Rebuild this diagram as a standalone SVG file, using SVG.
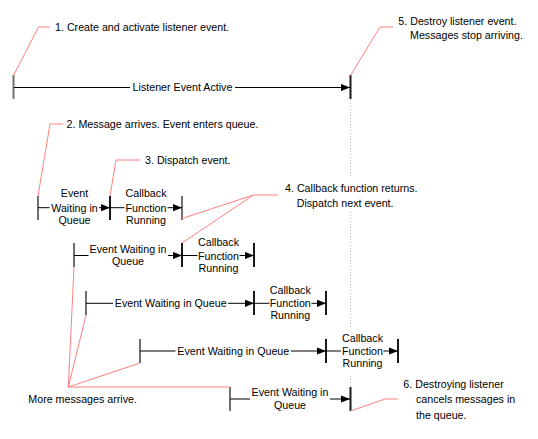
<svg xmlns="http://www.w3.org/2000/svg" width="538" height="439" viewBox="0 0 538 439">
  <defs>
    <marker id="arrow" viewBox="0 0 10 8" refX="10" refY="4" markerWidth="9" markerHeight="7.5" markerUnits="userSpaceOnUse" orient="auto">
      <path d="M0,0 L10,4 L0,8 Z" fill="#000"/>
    </marker>
    <style>
      text { font-family: "Liberation Sans", Arial, Helvetica, sans-serif; font-size: 10.7px; fill: #000; }
      .mid { text-anchor: middle; }
      .line { stroke: #000; stroke-width: 1; fill: none; }
      .arr { stroke: #000; stroke-width: 1; fill: none; marker-end: url(#arrow); }
      .start { stroke: #707070; stroke-width: 2; }
      .stop { stroke: #1a1a1a; stroke-width: 2; }
      .call { stroke: #ff8080; stroke-width: 1; fill: none; }
      .guide { stroke: #c0c0c0; stroke-width: 1; stroke-dasharray: 1 2; }
    </style>
  </defs>
  <rect width="538" height="439" fill="#fff"/>

  <!-- end-of-life guide under the listener stop bar -->
  <g id="guide">
    <line class="guide" x1="350.5" y1="100" x2="350.5" y2="178"/>
    <line class="guide" x1="350.5" y1="212" x2="350.5" y2="328"/>
    <line class="guide" x1="350.5" y1="376" x2="350.5" y2="387"/>
  </g>

  <!-- listener lifetime -->
  <g id="listener">
    <line class="start" x1="13.5" y1="75" x2="13.5" y2="99"/>
    <line class="stop" x1="350.5" y1="75" x2="350.5" y2="99"/>
    <text class="mid" x="182.5" y="90.8">Listener Event Active</text>
  </g>

  <!-- message 1 -->
  <g id="wait1">
    <line class="start" x1="38" y1="196" x2="38" y2="220"/>
    <text class="mid" x="74.5" y="197.2">Event</text>
    <text class="mid" x="74.5" y="211.5">Waiting in</text>
    <text class="mid" x="74.5" y="224">Queue</text>
  </g>
  <g id="run1">
    <line class="stop" x1="110" y1="196" x2="110" y2="220"/>
    <line class="start" x1="182" y1="196" x2="182" y2="220"/>
    <text class="mid" x="146" y="197.2">Callback</text>
    <text class="mid" x="146" y="211.5">Function</text>
    <text class="mid" x="146" y="224">Running</text>
  </g>

  <!-- message 2 -->
  <g id="wait2">
    <line class="start" x1="74" y1="243" x2="74" y2="267"/>
    <text class="mid" x="128" y="253">Event Waiting in</text>
    <text class="mid" x="128" y="265.2">Queue</text>
  </g>
  <g id="run2">
    <line class="stop" x1="182" y1="243" x2="182" y2="267"/>
    <line class="stop" x1="254" y1="243" x2="254" y2="267"/>
    <text class="mid" x="218.5" y="245.7">Callback</text>
    <text class="mid" x="218.5" y="259.5">Function</text>
    <text class="mid" x="218.5" y="271.5">Running</text>
  </g>

  <!-- message 3 -->
  <g id="wait3">
    <line class="start" x1="86" y1="291" x2="86" y2="315"/>
    <text class="mid" x="170.7" y="307.2">Event Waiting in Queue</text>
  </g>
  <g id="run3">
    <line class="stop" x1="254" y1="291" x2="254" y2="315"/>
    <line class="stop" x1="326" y1="291" x2="326" y2="315"/>
    <text class="mid" x="290.3" y="294">Callback</text>
    <text class="mid" x="290.3" y="307.3">Function</text>
    <text class="mid" x="290.3" y="319">Running</text>
  </g>

  <!-- message 4 -->
  <g id="wait4">
    <line class="start" x1="140" y1="339" x2="140" y2="363"/>
    <text class="mid" x="233.3" y="355">Event Waiting in Queue</text>
  </g>
  <g id="run4">
    <line class="stop" x1="326" y1="339" x2="326" y2="363"/>
    <line class="stop" x1="398" y1="339" x2="398" y2="363"/>
    <text class="mid" x="362.5" y="342.3">Callback</text>
    <text class="mid" x="362.5" y="355">Function</text>
    <text class="mid" x="362.5" y="366.7">Running</text>
  </g>

  <!-- message 5 -->
  <g id="wait5">
    <line class="start" x1="230" y1="387" x2="230" y2="411"/>
    <text class="mid" x="290" y="396.3">Event Waiting in</text>
    <text class="mid" x="290" y="409">Queue</text>
  </g>
  <g id="cancel">
    <line class="stop" x1="350.5" y1="387" x2="350.5" y2="411"/>
  </g>

  <!-- notes -->
  <g id="note1"><text x="55" y="31">1. Create and activate listener event.</text></g>
  <g id="note2"><text x="66.5" y="128">2. Message arrives. Event enters queue.</text></g>
  <g id="note3"><text x="145" y="164">3. Dispatch event.</text></g>
  <g id="note4">
    <text x="285" y="192.3">4. Callback function returns.</text>
    <text x="296.7" y="207.3">Dispatch next event.</text>
  </g>
  <g id="note5">
    <text x="398.3" y="24.5">5. Destroy listener event.</text>
    <text x="410" y="39">Messages stop arriving.</text>
  </g>
  <g id="note6">
    <text x="403.3" y="388.3">6. Destroying listener</text>
    <text x="416" y="403">cancels messages in</text>
    <text x="416" y="419">the queue.</text>
  </g>
  <g id="noteMore"><text x="28.3" y="403.3">More messages arrive.</text></g>

  <g id="connectors">
    <!-- timeline lines -->
    <line class="line" x1="14" y1="87.5" x2="130" y2="87.5"/>
    <line class="arr" x1="235" y1="87.5" x2="350" y2="87.5"/>

    <line class="line" x1="38" y1="207.7" x2="49.5" y2="207.7"/>
    <line class="arr" x1="99" y1="207.7" x2="110" y2="207.7"/>
    <line class="line" x1="110" y1="207.7" x2="124.5" y2="207.7"/>
    <line class="arr" x1="167.5" y1="207.7" x2="182" y2="207.7"/>

    <line class="line" x1="74" y1="255.5" x2="88.5" y2="255.5"/>
    <line class="arr" x1="168" y1="255.5" x2="182" y2="255.5"/>
    <line class="line" x1="182" y1="255.5" x2="197.5" y2="255.5"/>
    <line class="arr" x1="239.5" y1="255.5" x2="254" y2="255.5"/>

    <line class="line" x1="86" y1="303.3" x2="113" y2="303.3"/>
    <line class="arr" x1="228" y1="303.3" x2="254" y2="303.3"/>
    <line class="line" x1="254" y1="303.3" x2="269.5" y2="303.3"/>
    <line class="arr" x1="311.5" y1="303.3" x2="326" y2="303.3"/>

    <line class="line" x1="140" y1="351" x2="175.5" y2="351"/>
    <line class="arr" x1="291" y1="351" x2="326" y2="351"/>
    <line class="line" x1="326" y1="351" x2="341" y2="351"/>
    <line class="arr" x1="383.5" y1="351" x2="398" y2="351"/>

    <line class="line" x1="230" y1="399" x2="250" y2="399"/>
    <line class="arr" x1="330" y1="399" x2="350" y2="399"/>

    <!-- callout leaders -->
    <polyline class="call" points="13.5,75.5 38.5,27 50,27"/>
    <polyline class="call" points="350.5,75.5 380,27 393,27"/>
    <polyline class="call" points="38,196 50,124 63,124"/>
    <polyline class="call" points="110,196 116,160 140,160"/>
    <polyline class="call" points="182,218.5 253.5,195 278,195"/>
    <line class="call" x1="182" y1="243" x2="253.5" y2="195"/>
    <polyline class="call" points="350.5,411 385,399 398,399"/>
    <line class="call" x1="68.3" y1="387" x2="74" y2="267"/>
    <line class="call" x1="68.3" y1="387" x2="86" y2="315"/>
    <line class="call" x1="68.3" y1="387" x2="140" y2="363"/>
    <line class="call" x1="68.3" y1="387" x2="230" y2="387"/>
  </g>
</svg>
